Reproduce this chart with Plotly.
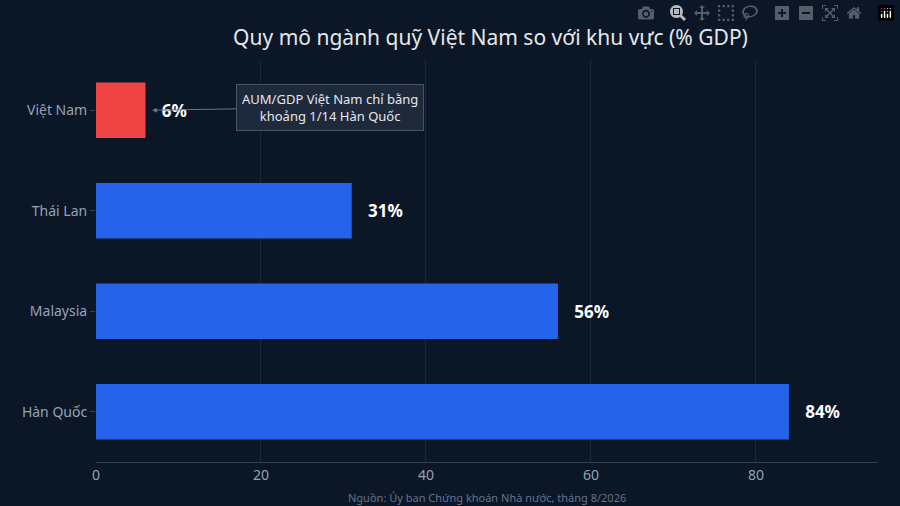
import plotly.graph_objects as go

countries = ["Hàn Quốc", "Malaysia", "Thái Lan", "Việt Nam"]
values = [84, 56, 31, 6]
colors = ["#2563eb", "#2563eb", "#2563eb", "#ef4444"]
labels = ["84%", "56%", "31%", "6%"]

fig = go.Figure(go.Bar(
    x=values, y=countries, orientation="h", marker_color=colors, marker_line_width=0,
    text=["   <b>%s</b>" % l for l in labels], textposition="outside", cliponaxis=False,
    textfont=dict(color="white", size=17, family="Noto Sans"), width=0.55,
))
fig.update_layout(
    width=900, height=506,
    paper_bgcolor="#0b1727", plot_bgcolor="#0b1727",
    font=dict(family="Noto Sans", color="#94a3b8", size=14),
    title=dict(text="Quy mô ngành quỹ Việt Nam so với khu vực (% GDP)", x=0.545, y=0.94,
               font=dict(size=21, color="#e5e7eb")),
    margin=dict(l=96, r=22, t=60, b=44),
    bargap=0.45, showlegend=False,
    xaxis=dict(range=[0, 94.8], tickvals=[0, 20, 40, 60, 80], gridcolor="#1c2738",
               zeroline=False, showline=True, linecolor="#334155", ticks="",
               tickfont=dict(size=14, color="#94a3b8")),
    yaxis=dict(showgrid=False, ticks="outside", ticklen=5, tickcolor="#334155",
               tickfont=dict(size=14, color="#94a3b8")),
    annotations=[
        dict(x=6.8, y="Việt Nam", ax=178, ay=-3, text="AUM/GDP Việt Nam chỉ bằng<br>khoảng 1/14 Hàn Quốc",
             showarrow=True, arrowhead=2, arrowsize=1, arrowwidth=1, arrowcolor="#64748b",
             bgcolor="#1e293b", bordercolor="#475569", borderwidth=1, borderpad=5,
             font=dict(size=13, color="#e5e7eb")),
        dict(x=0.5, y=-0.065, xref="paper", yref="paper", yanchor="top", showarrow=False,
             text="Nguồn: Ủy ban Chứng khoán Nhà nước, tháng 8/2026",
             font=dict(size=11, color="#64748b")),
    ],
)
fig.write_html("out.html", post_script="document.body.style.margin='0';document.body.style.background='#0b1727';")
